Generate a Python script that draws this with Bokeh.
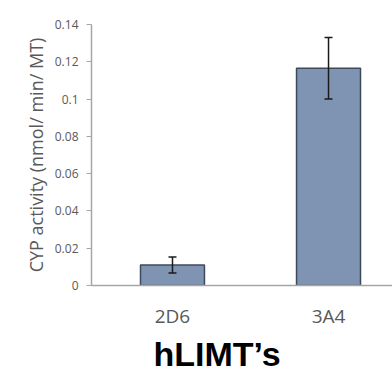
from bokeh.plotting import figure
from bokeh.models import Range1d, FixedTicker, Whisker, ColumnDataSource, TeeHead, Title
from bokeh.embed import file_html
from bokeh.resources import INLINE

categories = ["2D6", "3A4"]
values = [0.011, 0.1165]
errors = [0.0043, 0.0165]
y_ticks = [0, 0.02, 0.04, 0.06, 0.08, 0.1, 0.12, 0.14]
y_tick_labels = ["0", "0.02", "0.04", "0.06", "0.08", "0.1", "0.12", "0.14"]
x_title = "hLIMT\u2019s"

xs = [i + 1 for i in range(len(categories))]
src = ColumnDataSource(dict(
    x=xs, top=values,
    upper=[v + e for v, e in zip(values, errors)],
    lower=[v - e for v, e in zip(values, errors)],
))

p = figure(width=392, height=374, output_backend="svg", toolbar_location=None,
           x_range=Range1d(0.481, 2.41), y_range=Range1d(0, 0.14),
           min_border_left=91, min_border_right=0, min_border_top=24, min_border_bottom=0)
p.outline_line_color = None
p.xgrid.grid_line_color = None
p.ygrid.grid_line_color = None

p.vbar(x="x", top="top", width=0.41, bottom=0, source=src,
       fill_color="#7F94B2", line_color="#3D4A5C", line_width=1.5)
w = Whisker(source=src, base="x", upper="upper", lower="lower",
            line_color="#1a1a1a", line_width=1.5, level="overlay",
            upper_head=TeeHead(size=8, line_color="#1a1a1a", line_width=1.5),
            lower_head=TeeHead(size=8, line_color="#1a1a1a", line_width=1.5))
p.add_layout(w)

ya = p.yaxis[0]
ya.ticker = FixedTicker(ticks=y_ticks)
ya.major_label_overrides = {t: l for t, l in zip(y_ticks, y_tick_labels)}
ya.minor_tick_line_color = None
ya.major_tick_in = 0
ya.major_tick_out = 5
ya.major_tick_line_color = "#A6A6A6"
ya.axis_line_color = "#A6A6A6"
ya.axis_line_width = 1.5
ya.major_label_text_font = "Open Sans"
ya.major_label_text_font_size = "12px"
ya.major_label_text_color = "#595959"
ya.major_label_standoff = 8
ya.axis_label = "CYP activity (nmol/ min/ MT)"
ya.axis_label_text_font = "Open Sans"
ya.axis_label_text_font_style = "normal"
ya.axis_label_text_font_size = "18px"
ya.axis_label_text_color = "#595959"
ya.axis_label_standoff = 4

xa = p.xaxis[0]
xa.ticker = FixedTicker(ticks=xs)
xa.major_label_overrides = {x: c for x, c in zip(xs, categories)}
xa.major_tick_line_color = None
xa.minor_tick_line_color = None
xa.axis_line_color = "#A6A6A6"
xa.axis_line_width = 1.5
xa.major_label_text_font = "Open Sans"
xa.major_label_text_font_size = "19px"
xa.major_label_text_color = "#595959"
xa.major_label_standoff = 11

p.add_layout(Title(text=x_title, align="left", offset=62, text_font="Liberation Sans",
                   text_font_style="bold", text_font_size="34px", text_color="#000000",
                   standoff=3), "below")

open("out.html", "w").write(file_html(p, INLINE))
